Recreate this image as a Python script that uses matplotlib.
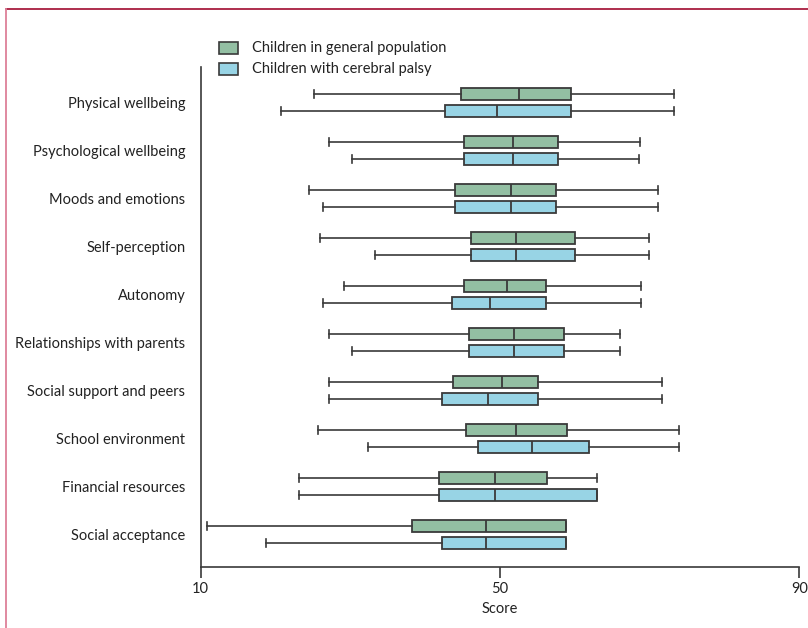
import matplotlib
matplotlib.use("Agg")
import matplotlib.pyplot as plt
from matplotlib.lines import Line2D
from matplotlib.patches import Rectangle

plt.rcParams['font.family'] = ['Lato', 'DejaVu Sans']

domains = ["Physical wellbeing", "Psychological wellbeing", "Moods and emotions",
           "Self-perception", "Autonomy", "Relationships with parents",
           "Social support and peers", "School environment", "Financial resources",
           "Social acceptance"]
# (whisker low, q1, median, q3, whisker high) per domain
general = [
    (25.1, 44.8, 52.5, 59.5, 73.3),
    (27.1, 45.2, 51.8, 57.7, 68.7),
    (24.5, 44.0, 51.5, 57.5, 71.1),
    (25.9, 46.1, 52.1, 60.0, 69.9),
    (29.1, 45.2, 50.9, 56.2, 68.9),
    (27.1, 45.9, 51.9, 58.6, 66.0),
    (27.2, 43.7, 50.3, 55.1, 71.6),
    (25.7, 45.4, 52.1, 59.0, 73.9),
    (23.2, 41.9, 49.3, 56.3, 62.9),
    (10.9, 38.3, 48.1, 58.8, 58.8),
]
cerebral_palsy = [
    (20.7, 42.6, 49.6, 59.5, 73.3),
    (30.2, 45.2, 51.8, 57.7, 68.6),
    (26.3, 44.0, 51.5, 57.5, 71.1),
    (33.3, 46.1, 52.1, 60.0, 69.9),
    (26.4, 43.6, 48.7, 56.2, 68.9),
    (30.2, 45.9, 51.9, 58.6, 66.0),
    (27.2, 42.3, 48.4, 55.1, 71.6),
    (32.3, 47.0, 54.3, 61.9, 73.9),
    (23.2, 41.9, 49.3, 63.0, 63.0),
    (18.7, 42.3, 48.1, 58.8, 58.8),
]
labels = ["Children in general population", "Children with cerebral palsy"]
colors = ["#93bfa3", "#98d4e5"]


def stats(rows):
    return [dict(whislo=a, q1=b, med=c, q3=d, whishi=e, fliers=[]) for a, b, c, d, e in rows]


fig = plt.figure(figsize=(8.08, 6.28), dpi=100)
ax = fig.add_axes([0.2484, 0.0976, 0.9892 - 0.2484, 0.8933 - 0.0976])

n = len(domains)
ypos = [n - 1 - i for i in range(n)]
edge = "#3a3a3a"
for rows, off, col in [(general, 0.174, colors[0]), (cerebral_palsy, -0.174, colors[1])]:
    ax.bxp(stats(rows), positions=[y + off for y in ypos], vert=False, widths=0.25,
           patch_artist=True, showfliers=False, capwidths=0.17,
           boxprops=dict(facecolor=col, edgecolor=edge, linewidth=1.3),
           medianprops=dict(color=edge, linewidth=1.3),
           whiskerprops=dict(color=edge, linewidth=1.2),
           capprops=dict(color=edge, linewidth=1.2))

ax.set_xlim(10, 90)
ax.set_ylim(-0.67, n - 1 + 0.74)
ax.set_xticks([10, 50, 90])
ax.set_xticklabels(["10", "50", "90"])
ax.set_yticks(ypos)
ax.set_yticklabels(domains)
ax.tick_params(axis="y", length=0, pad=11, labelsize=10.5, colors="#222222")
ax.tick_params(axis="x", length=8, width=1.2, color=edge, labelsize=10.5, colors="#222222", pad=3)
ax.set_xlabel("Score", fontsize=10.5, color="#222222", labelpad=4)
for s in ["top", "right"]:
    ax.spines[s].set_visible(False)
for s in ["left", "bottom"]:
    ax.spines[s].set_color(edge)
    ax.spines[s].set_linewidth(1.2)

# legend drawn in figure pixels
W, H = 808, 628
for k, (lab, col) in enumerate(zip(labels, colors)):
    yc = 48 + 21 * k
    fig.add_artist(Rectangle((219 / W, (H - yc - 6) / H), 19 / W, 12 / H,
                             facecolor=col, edgecolor=edge, linewidth=1.2,
                             transform=fig.transFigure))
    fig.text(252 / W, (H - yc) / H, lab, fontsize=10.5, color="#222222", va="center")

# page frame lines
fig.add_artist(Line2D([6 / W, 1], [(H - 9) / H] * 2, color="#a81c3f", linewidth=1.3,
                      transform=fig.transFigure))
fig.add_artist(Line2D([6 / W] * 2, [0, (H - 9) / H], color="#dd8099", linewidth=1.3,
                      transform=fig.transFigure))

fig.savefig("out.png", dpi=100)
